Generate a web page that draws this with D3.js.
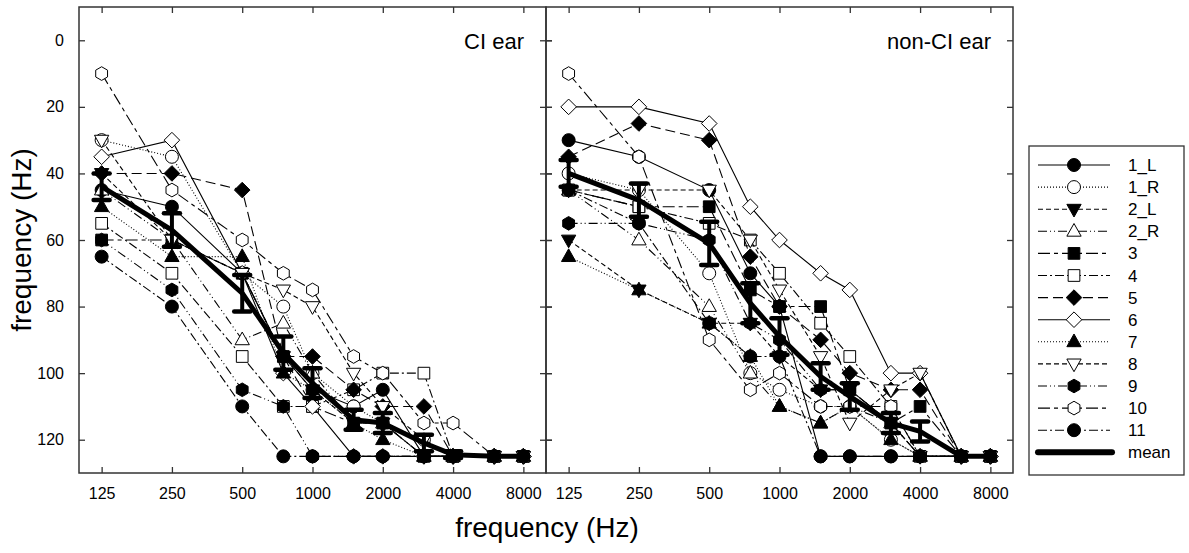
<!DOCTYPE html>
<html>
<head>
<meta charset="utf-8">
<script src="https://cdn.jsdelivr.net/npm/d3@7"></script>
<style>
  body { margin: 0; background: #fff; }
  text { font-family: "Liberation Sans", Arial, sans-serif; fill: #000; }
</style>
</head>
<body>
<div id="chart"></div>
<script>
// test frequencies (Hz) and tick labels
const freqs = [125, 250, 500, 750, 1000, 1500, 2000, 3000, 4000, 6000, 8000];
const xTicks = [125, 250, 500, 1000, 2000, 4000, 8000];
const yTicks = [0, 20, 40, 60, 80, 100, 120];

const subjects = ["1_L", "1_R", "2_L", "2_R", "3", "4", "5", "6", "7", "8", "9", "10", "11"];

// CI ear, one row per subject, values at freqs
const ciEar = [
  [45, 50, 70, 95, 105, 110, 105, 125, 125, 125, 125],
  [30, 35, 70, 80, 100, 110, 115, 120, 125, 125, 125],
  [40, 60, 70, 95, 105, 115, 115, 125, 125, 125, 125],
  [45, 60, 90, 85, 100, 115, 115, 125, 125, 125, 125],
  [60, 60, 70, 95, 110, 115, 115, 125, 125, 125, 125],
  [55, 70, 95, 110, 110, 105, 100, 100, 125, 125, 125],
  [40, 40, 45, 95, 95, 105, 110, 110, 125, 125, 125],
  [35, 30, 70, 100, 110, 125, 125, 125, 125, 125, 125],
  [50, 65, 65, 100, 105, 115, 120, 125, 125, 125, 125],
  [30, 60, 70, 75, 80, 100, 110, 120, 125, 125, 125],
  [60, 75, 105, 110, 125, 125, 125, 125, 125, 125, 125],
  [10, 45, 60, 70, 75, 95, 100, 115, 115, 125, 125],
  [65, 80, 110, 125, 125, 125, 125, 125, 125, 125, 125]
];
const ciMean = [44, 57, 76, 94, 103, 114, 115, 121, 124.5, 125, 125];
const ciSE   = [4, 5, 5.5, 5, 4.5, 3, 3, 2.5, 1, 0, 0];

// non-CI ear
const nonCiEar = [
  [30, 35, 45, 70, 80, 125, 125, 125, 125, 125, 125],
  [40, 45, 70, 100, 105, 110, 110, 120, 125, 125, 125],
  [60, 75, 85, 85, 95, 105, 105, 115, 125, 125, 125],
  [45, 60, 80, 100, 110, 115, 110, 115, 125, 125, 125],
  [45, 50, 50, 75, 80, 80, 105, 115, 110, 125, 125],
  [45, 50, 55, 60, 70, 85, 95, 110, 125, 125, 125],
  [35, 25, 30, 65, 80, 90, 100, 105, 105, 125, 125],
  [20, 20, 25, 50, 60, 70, 75, 100, 100, 125, 125],
  [65, 75, 85, 95, 110, 115, 110, 120, 125, 125, 125],
  [45, 45, 45, 60, 75, 95, 115, 105, 100, 125, 125],
  [55, 55, 60, 85, 90, 105, 105, 115, 125, 125, 125],
  [10, 35, 90, 105, 100, 110, 110, 110, 125, 125, 125],
  [45, 55, 85, 95, 95, 125, 125, 125, 125, 125, 125]
];
const nonCiMean = [40, 48, 61, 79, 89, 101, 107, 115, 117.5, 125, 125];
const nonCiSE   = [4, 5, 6.5, 6, 5.5, 4, 4, 3, 3, 0, 0];

// SigmaPlot-like symbol / line style cycle
const shapes = ["circle", "circle", "triDown", "triUp", "square", "square", "diamond", "diamond", "triUp", "triDown", "hexagon", "hexagon", "circle"];
const filled = [true, false, true, false, true, false, true, false, true, false, true, false, true];
const dashes = [null, "1,2", "5,3", "9,3,1,3,1,3", "12,4,4,4", "9,3,2,3", "10,5", null, "1,2", "5,3", "9,3,1,3,1,3", "12,4,4,4", "9,3,2,3"];

const W = 1189, H = 553;
const plotTop = 7, plotBottom = 473, panelW = 467;
const panels = [
  {x0: 79, data: ciEar, mean: ciMean, se: ciSE, label: "CI ear"},
  {x0: 546, data: nonCiEar, mean: nonCiMean, se: nonCiSE, label: "non-CI ear"}
];

const svg = d3.select("#chart").append("svg")
  .attr("width", W).attr("height", H);

const y = d3.scaleLinear().domain([-10, 130]).range([plotTop, plotBottom]);

function markerPath(shape, r) {
  const pts = [];
  if (shape === "circle") return d3.symbol(d3.symbolCircle, Math.PI * r * r)();
  if (shape === "square") { const s = r * 0.9; pts.push([-s, -s], [s, -s], [s, s], [-s, s]); }
  if (shape === "diamond") { const s = r * 1.2; pts.push([0, -s], [s, 0], [0, s], [-s, 0]); }
  if (shape === "triUp") pts.push([0, -r * 1.2], [r * 1.1, r * 0.75], [-r * 1.1, r * 0.75]);
  if (shape === "triDown") pts.push([0, r * 1.2], [r * 1.1, -r * 0.75], [-r * 1.1, -r * 0.75]);
  if (shape === "hexagon") {
    for (let k = 0; k < 6; k++) {
      const a = -Math.PI / 2 + k * Math.PI / 3;
      pts.push([r * 1.05 * Math.cos(a), r * 1.05 * Math.sin(a)]);
    }
  }
  return "M" + pts.map(p => p.join(",")).join("L") + "Z";
}

panels.forEach(function(p, pi) {
  const x = d3.scaleLog().domain([100, 10000]).range([p.x0, p.x0 + panelW]);
  const g = svg.append("g");

  // ticks on all sides, pointing inward
  g.append("g").attr("transform", `translate(0, ${plotTop})`)
    .call(d3.axisTop(x).tickValues(xTicks).tickSize(-6).tickFormat(""))
    .call(a => a.select(".domain").remove());
  g.append("g").attr("transform", `translate(0, ${plotBottom})`)
    .call(d3.axisBottom(x).tickValues(xTicks).tickSize(-6).tickPadding(15).tickFormat(d3.format("d")))
    .call(a => a.select(".domain").remove())
    .call(a => a.selectAll("text").attr("font-size", 16).attr("font-family", "Liberation Sans, Arial"));
  g.append("g").attr("transform", `translate(${p.x0}, 0)`)
    .call(d3.axisLeft(y).tickValues(yTicks).tickSize(-6).tickPadding(pi === 0 ? 15 : 0)
      .tickFormat(pi === 0 ? d3.format("d") : ""))
    .call(a => a.select(".domain").remove())
    .call(a => a.selectAll("text").attr("font-size", 16).attr("font-family", "Liberation Sans, Arial"));
  g.append("g").attr("transform", `translate(${p.x0 + panelW}, 0)`)
    .call(d3.axisRight(y).tickValues(yTicks).tickSize(-6).tickFormat(""))
    .call(a => a.select(".domain").remove());
  if (pi === 0) {
    // outward part of the shared border ticks
    g.append("g").attr("transform", `translate(${p.x0 + panelW}, 0)`)
      .call(d3.axisRight(y).tickValues(yTicks).tickSize(6).tickFormat(""))
      .call(a => a.select(".domain").remove());
  }
  g.selectAll(".tick line").attr("stroke", "#333").attr("stroke-width", 1.3);

  g.append("rect")
    .attr("x", p.x0).attr("y", plotTop)
    .attr("width", panelW).attr("height", plotBottom - plotTop)
    .attr("fill", "none").attr("stroke", "#333").attr("stroke-width", 1.5);

  g.append("text")
    .attr("x", p.x0 + panelW - 22).attr("y", 49)
    .attr("text-anchor", "end").attr("font-size", 22)
    .text(p.label);

  const line = d3.line()
    .x(d => x(d.f))
    .y(d => y(d.v));

  p.data.forEach(function(row, i) {
    const pts = freqs.map((f, j) => ({f: f, v: row[j]})).filter(d => d.v != null);
    g.append("path")
      .datum(pts)
      .attr("fill", "none")
      .attr("stroke", "#000")
      .attr("stroke-width", 1.1)
      .attr("stroke-dasharray", dashes[i])
      .attr("d", line);
    g.selectAll(null)
      .data(pts)
      .join("path")
        .attr("transform", d => `translate(${x(d.f)}, ${y(d.v)})`)
        .attr("d", markerPath(shapes[i], 6.5))
        .attr("fill", filled[i] ? "#000" : "#fff")
        .attr("stroke", "#000")
        .attr("stroke-width", 1);
  });

  // mean with error bars
  const meanPts = freqs.map((f, j) => ({f: f, v: p.mean[j], e: p.se[j]}));
  const eb = g.append("g");
  meanPts.filter(d => d.e > 0).forEach(function(d) {
    const cx = x(d.f);
    eb.append("line")
      .attr("x1", cx).attr("x2", cx)
      .attr("y1", y(d.v - d.e)).attr("y2", y(d.v + d.e))
      .attr("stroke", "#000").attr("stroke-width", 4);
    [d.v - d.e, d.v + d.e].forEach(function(v) {
      eb.append("line")
        .attr("x1", cx - 8).attr("x2", cx + 8)
        .attr("y1", y(v)).attr("y2", y(v))
        .attr("stroke", "#000").attr("stroke-width", 4.5)
        .attr("stroke-linecap", "round");
    });
  });
  g.append("path")
    .datum(meanPts)
    .attr("fill", "none")
    .attr("stroke", "#000")
    .attr("stroke-width", 5)
    .attr("stroke-linejoin", "round")
    .attr("d", line);
});

// axis titles
svg.append("text")
  .attr("x", 547).attr("y", 537)
  .attr("text-anchor", "middle").attr("font-size", 28)
  .text("frequency (Hz)");
svg.append("text")
  .attr("transform", "translate(31, 240) rotate(-90)")
  .attr("text-anchor", "middle").attr("font-size", 28)
  .text("frequency (Hz)");

// legend
const lg = svg.append("g");
lg.append("rect")
  .attr("x", 1029).attr("y", 146)
  .attr("width", 155).attr("height", 329)
  .attr("fill", "#fff").attr("stroke", "#333").attr("stroke-width", 1.3);
const rowY = i => 165 + i * 22.1;
subjects.forEach(function(s, i) {
  lg.append("line")
    .attr("x1", 1038).attr("x2", 1110)
    .attr("y1", rowY(i)).attr("y2", rowY(i))
    .attr("stroke", "#000").attr("stroke-width", 1.1)
    .attr("stroke-dasharray", dashes[i]);
  lg.append("path")
    .attr("transform", `translate(1074, ${rowY(i)})`)
    .attr("d", markerPath(shapes[i], 6.5))
    .attr("fill", filled[i] ? "#000" : "#fff")
    .attr("stroke", "#000");
  lg.append("text")
    .attr("x", 1128).attr("y", rowY(i) + 6)
    .attr("font-size", 17)
    .text(s);
});
const mi = subjects.length;
lg.append("line")
  .attr("x1", 1038).attr("x2", 1112)
  .attr("y1", rowY(mi)).attr("y2", rowY(mi))
  .attr("stroke", "#000").attr("stroke-width", 6)
  .attr("stroke-linecap", "round");
lg.append("text")
  .attr("x", 1128).attr("y", rowY(mi) + 6)
  .attr("font-size", 17)
  .text("mean");
</script>
</body>
</html>
